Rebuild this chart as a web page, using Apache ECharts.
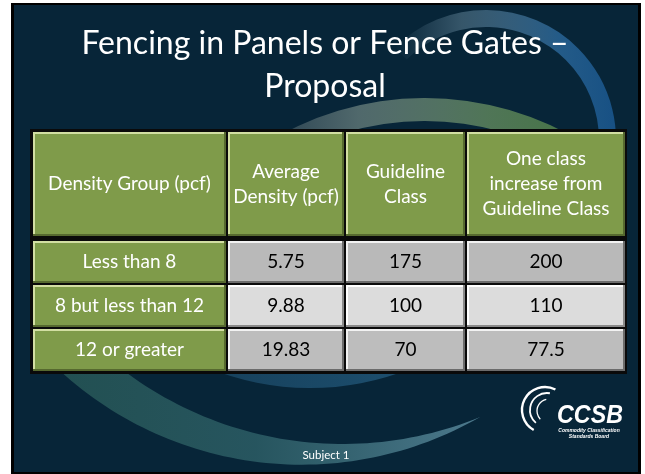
<!DOCTYPE html>
<html><head><meta charset="utf-8">
<script src="https://cdn.jsdelivr.net/npm/echarts@6/dist/echarts.min.js"></script>
<style>html,body{margin:0;padding:0;background:#fff;} #c{width:645px;height:474px;}</style>
</head><body><div id="c"></div>
<script>
// ---- data ----
const titleLines = ['Fencing in Panels or Fence Gates –', 'Proposal'];
const headers = ['Density Group (pcf)', 'Average\nDensity (pcf)', 'Guideline\nClass', 'One class\nincrease from\nGuideline Class'];
const densityGroups = ['Less than 8', '8 but less than 12', '12 or greater'];
const avgDensity = [5.75, 9.88, 19.83];
const guidelineClass = [175, 100, 70];
const oneClassIncrease = [200, 110, 77.5];
const footerText = 'Subject 1';
const logoText = 'CCSB';
const logoSub = ['Commodity Classification', 'Standards Board'];

// ---- layout / style ----
const columns = [densityGroups, avgDensity, guidelineClass, oneClassIncrease];
const colLeft = [32, 227, 345, 466];
const colWidth = [195, 118, 121, 160];
const headTop = 131, headH = 106, bodyTop = 240, bodyH = 132;
const FONT = 'Lato';
const green = {fill: '#7f9b4a', light: '#d2dea2', dark: '#56692f', text: '#ffffff'};
const grays = [
  {fill: '#b9b9b9', light: '#f2f2f2', dark: '#6c6c6c', text: '#000000'},
  {fill: '#dcdcdc', light: '#ffffff', dark: '#8a8a8a', text: '#000000'},
  {fill: '#bdbdbd', light: '#f2f2f2', dark: '#6c6c6c', text: '#000000'}
];

function cellItem(x, y, w, h, sty, label, fontSize, lineHeight) {
  return {
    type: 'group',
    children: [
      {type: 'rect', shape: {x: x + 1, y: y + 1, width: w - 2, height: h - 2}, style: {fill: sty.fill}},
      {type: 'rect', shape: {x: x + 1, y: y + 1, width: w - 2, height: 2}, style: {fill: sty.light}},
      {type: 'rect', shape: {x: x + 1, y: y + 1, width: 2, height: h - 2}, style: {fill: sty.light}},
      {type: 'rect', shape: {x: x + 1, y: y + h - 3, width: w - 2, height: 2}, style: {fill: sty.dark}},
      {type: 'rect', shape: {x: x + w - 3, y: y + 1, width: 2, height: h - 2}, style: {fill: sty.dark}},
      {type: 'text', x: x + w / 2, y: y + h / 2, style: {
        text: label, fill: sty.text, font: fontSize + 'px ' + FONT,
        align: 'center', verticalAlign: 'middle', lineHeight: lineHeight}}
    ]
  };
}

const grid = [], xAxis = [], yAxis = [], series = [];
columns.forEach((col, c) => {
  grid.push({left: colLeft[c], top: headTop, width: colWidth[c], height: headH});
  xAxis.push({type: 'value', min: 0, max: 1, show: false, gridIndex: grid.length - 1});
  yAxis.push({type: 'category', data: [headers[c]], show: false, gridIndex: grid.length - 1});
  const hi = grid.length - 1;
  series.push({
    type: 'custom', coordinateSystem: 'cartesian2d', xAxisIndex: hi, yAxisIndex: hi,
    data: [[0, 0]],
    renderItem: (params, api) => {
      const cs = params.coordSys;
      const p = api.coord([0, api.value(1)]);
      const bh = api.size([0, 1])[1];
      return cellItem(cs.x, p[1] - bh / 2, cs.width, bh, green, headers[c], 19, 25);
    }
  });
  grid.push({left: colLeft[c], top: bodyTop, width: colWidth[c], height: bodyH});
  xAxis.push({type: 'value', min: 0, max: 1, show: false, gridIndex: grid.length - 1});
  yAxis.push({type: 'category', data: densityGroups, inverse: true, show: false, gridIndex: grid.length - 1});
  const bi = grid.length - 1;
  series.push({
    type: 'custom', coordinateSystem: 'cartesian2d', xAxisIndex: bi, yAxisIndex: bi,
    data: col.map((v, i) => [0, i]),
    renderItem: (params, api) => {
      const cs = params.coordSys;
      const p = api.coord([0, api.value(1)]);
      const bh = api.size([0, 1])[1];
      const sty = c === 0 ? green : grays[params.dataIndex];
      return cellItem(cs.x, p[1] - bh / 2, cs.width, bh, sty, String(col[params.dataIndex]), 19, 22);
    }
  });
});

// decorative crescent outline (two circles)
function crescent() {
  const pts = [];
  const oc = [301.6, 106.8, 357.9], ic = [342.7, 80.7, 363.3];
  for (let a = 2.43; a >= 1.049; a -= 0.02) pts.push([oc[0] + oc[2] * Math.cos(a), oc[1] + oc[2] * Math.sin(a)]);
  pts.push([480, 417]);
  for (let a = 1.183; a <= 2.347; a += 0.02) pts.push([ic[0] + ic[2] * Math.cos(a), ic[1] + ic[2] * Math.sin(a)]);
  return pts;
}

const G = echarts.graphic;
const bgGraphics = [
  {type: 'rect', z: -10, shape: {x: 11, y: 3, width: 630, height: 471}, style: {fill: '#000'}},
  {type: 'rect', z: -9, shape: {x: 14, y: 5, width: 624, height: 467}, style: {fill: '#072538'}},
  {type: 'sector', z: -8, shape: {cx: 310, cy: 118, r0: 232, r: 270, startAngle: 0.8, endAngle: 2.35},
    style: {fill: new G.LinearGradient(0, 0, 1, 0, [
      {offset: 0, color: 'rgba(30,75,105,0.6)'}, {offset: 0.6, color: 'rgba(35,90,125,0.7)'},
      {offset: 1, color: 'rgba(45,105,145,0.75)'}])}},
  {type: 'sector', z: -8, shape: {cx: 486, cy: 140, r0: 113, r: 130, startAngle: -2.35, endAngle: 0.3},
    style: {fill: new G.LinearGradient(0, 0, 1, 0, [
      {offset: 0, color: 'rgba(110,140,160,0.0)'}, {offset: 0.3, color: 'rgba(110,145,165,0.45)'},
      {offset: 0.75, color: 'rgba(40,100,150,0.85)'}, {offset: 1, color: 'rgba(25,85,140,0.9)'}])}},
  {type: 'sector', z: -8, shape: {cx: 425, cy: 400, r0: 279, r: 302, startAngle: -2.15, endAngle: -1.0},
    style: {fill: new G.LinearGradient(0, 0, 1, 0, [
      {offset: 0, color: 'rgba(150,160,160,0.2)'}, {offset: 0.3, color: 'rgba(140,160,150,0.55)'},
      {offset: 0.7, color: 'rgba(100,140,95,0.78)'}, {offset: 1, color: 'rgba(80,130,70,0.85)'}])}},
  {type: 'polygon', z: -8, shape: {points: crescent()},
    style: {fill: new G.LinearGradient(0, 0, 1, 0, [
      {offset: 0, color: 'rgba(50,105,95,0.62)'}, {offset: 0.5, color: 'rgba(55,110,115,0.66)'},
      {offset: 1, color: 'rgba(100,150,170,0.75)'}])}},
  {type: 'rect', z: -5, shape: {x: 30, y: 129, width: 597, height: 245}, style: {fill: '#0a0a0a'}},
  {type: 'text', z: 5, x: 325, y: 44, style: {text: titleLines[0], fill: '#fff', font: '32px ' + FONT, align: 'center', verticalAlign: 'middle'}},
  {type: 'text', z: 5, x: 325, y: 87, style: {text: titleLines[1], fill: '#fff', font: '32px ' + FONT, align: 'center', verticalAlign: 'middle'}},
  {type: 'text', z: 5, x: 326, y: 455, style: {text: footerText, fill: '#fff', font: '11.5px ' + FONT, align: 'center', verticalAlign: 'middle'}},
  // logo swoosh
  {type: 'arc', z: 5, shape: {cx: 545, cy: 410, r: 23, startAngle: -1.1, endAngle: -4.2, clockwise: false}, style: {stroke: '#fff', lineWidth: 2.4, fill: null}},
  {type: 'arc', z: 5, shape: {cx: 547, cy: 410, r: 17, startAngle: -1.4, endAngle: -4.0, clockwise: false}, style: {stroke: '#fff', lineWidth: 1.8, fill: null}},
  {type: 'arc', z: 5, shape: {cx: 549, cy: 411, r: 12, startAngle: -1.8, endAngle: -3.9, clockwise: false}, style: {stroke: '#fff', lineWidth: 1.3, fill: null}},
  {type: 'text', z: 5, x: 590, y: 416, scaleX: 0.93, style: {text: logoText, fill: '#fff', font: 'italic bold 25px "Liberation Sans"', align: 'center', verticalAlign: 'middle'}},
  {type: 'text', z: 5, x: 589, y: 434, style: {text: logoSub.join('\n'), fill: '#fff', font: 'italic bold 5px "Liberation Sans"', align: 'center', verticalAlign: 'middle', lineHeight: 6}}
];

const chart = echarts.init(document.getElementById('c'), null, {renderer: 'canvas'});
chart.setOption({
  backgroundColor: '#ffffff',
  animation: false,
  grid, xAxis, yAxis, series,
  graphic: bgGraphics
});
</script></body></html>
